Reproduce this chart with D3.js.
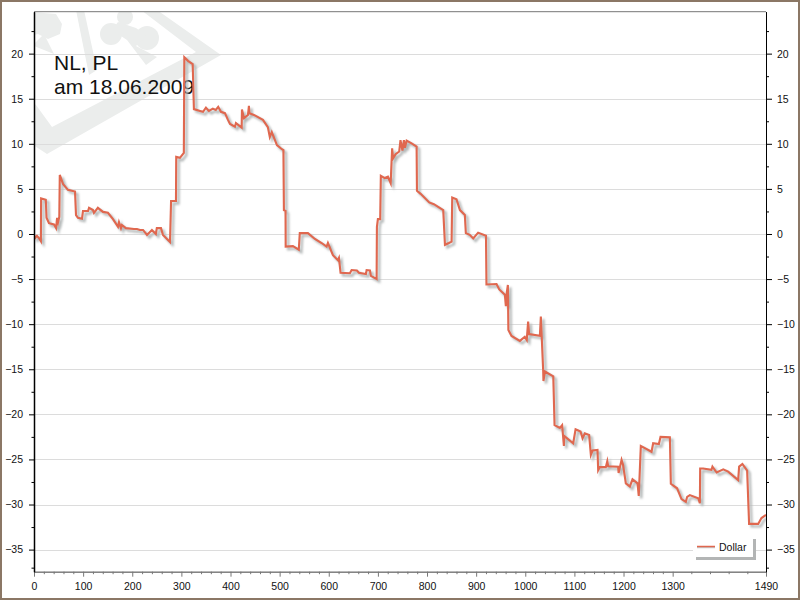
<!DOCTYPE html>
<html><head><meta charset="utf-8">
<script src="https://cdn.jsdelivr.net/npm/d3@7"></script>
<style>
html,body{margin:0;padding:0;background:#fff;overflow:hidden}
svg{display:block}
text{font-family:"Liberation Sans",Arial,sans-serif;fill:#111}
</style></head><body>
<svg id="c" width="800" height="600"></svg>
<script>
const titleLines = ["NL, PL", "am 18.06.2009"];
const seriesName = "Dollar";
const yMajorTicks = [20,15,10,5,0,-5,-10,-15,-20,-25,-30,-35];
const xLabelTicks = [0,100,200,300,400,500,600,700,800,900,1000,1100,1200,1300,1490];
const xMinorTicks = [20,40,60,80,120,140,160,180,220,240,260,280,320,340,360,380,420,440,460,480,520,540,560,580,620,640,660,680,720,740,760,780,820,840,860,880,920,940,960,980,1020,1040,1060,1080,1120,1140,1160,1180,1220,1240,1260,1280,1338,1376,1414,1452];
const yMinorTicks = [22.5,17.5,12.5,7.5,2.5,-2.5,-7.5,-12.5,-17.5,-22.5,-27.5,-32.5,-37];
const xValues = [0,2,6,10,14,14.5,24,25.5,30.5,40.7,45,47,49,51.5,52.5,59,69,83.5,85.5,89.5,97.7,99.7,110,112,120,122,130,140.5,150.5,160.8,171,173,177,179,187,203.5,209.6,215.7,222,230,240,248,250,258.5,262.5,276.8,279,289,289.5,297,305,306,313.4,323,325.5,338,344,350,356,364,370,375,380.5,388.7,394.8,399,409,411,422.7,423.3,427.4,435.5,437.5,438.5,447.7,466,476,480,484,494.5,504.7,507.7,508.7,512,512.3,527,539,541,557.6,571.8,585.5,595.6,598.3,608.5,618.6,620.7,624,643,646.5,657.3,661.4,675.6,677,683.8,685.8,697.4,698,700,704.7,706,714,720.4,726,729,731,736,743.4,746,750,753,755,758.5,768.6,778.8,779.5,787,804.5,814,833,836.5,844.5,850,851.3,860,867,877,879,887,894,904,920,921,941.5,947,958.5,960.5,962.5,964.6,965.6,972,989,999,1003,1005.8,1007.8,1029.7,1031.7,1036.5,1037,1040,1057,1059.6,1070.4,1075,1078.6,1079.2,1097.5,1102.4,1112.5,1116.6,1121.3,1130,1133.5,1137,1147,1148.4,1151.8,1164,1167,1168.7,1189,1190,1196,1199,1204.7,1212.9,1218.3,1228.5,1231,1235.2,1257,1260.3,1272,1275.3,1294.3,1296.3,1309,1318,1326.8,1329.5,1335,1352,1355.4,1356,1362,1379,1381,1389.5,1403,1413,1433.3,1435.3,1442,1451.6,1455.6,1474,1480.8,1490];
const yValues = [-0.1,-0.45,-0.2,-0.45,-0.8,3.95,3.8,1.8,1.2,1.05,0.65,1.8,1.3,1.9,6.55,5.55,4.9,4.7,2.1,1.8,1.7,2.55,2.55,2.9,2.65,2.35,2.9,2.45,2.35,1.65,0.8,1.3,0.65,1.0,0.65,0.55,0.55,0.45,0.45,-0.1,0.45,0,0.65,0.65,-0.1,-0.9,3.65,3.65,8.55,8.45,9,19.6,19.2,18.85,13.85,13.65,13.55,14,13.65,13.9,13.75,14.1,13.55,13.4,12.65,12.2,11.9,12.3,11.8,13.8,12.85,13.2,14.2,13.4,13.2,12.65,11.85,10.75,11.3,9.85,9.4,9.3,2.65,2.55,-1.4,-1.35,-1.75,0.1,0.1,-0.55,-1.0,-1.4,-1.0,-2.35,-2.9,-2.65,-4.3,-4.35,-4.0,-4.05,-4.3,-4.45,-4.0,-4.05,-4.65,-5.0,0.8,1.65,1.65,6.45,6.2,6.35,5.65,9.5,8.4,8.85,9.15,10.4,9.25,10.4,9.55,10.35,10.05,9.7,4.8,4.45,3.5,3.3,2.65,-1.2,-1.0,-0.85,4.05,3.85,2.65,2.1,0.1,-0.1,-0.5,0.15,-0.2,-5.6,-5.55,-6.15,-6.75,-8,-6.45,-5.65,-10.65,-11.3,-11.85,-11.4,-11.75,-9.7,-11.1,-11.3,-9.15,-15.25,-16.3,-15.25,-15.8,-21.2,-21.5,-21.2,-23.5,-22.4,-23.2,-21.65,-21.9,-22.65,-22.1,-22.3,-24.5,-24,-23.95,-26.2,-25.85,-25.85,-25.2,-25.75,-25.8,-26.5,-25.05,-25.6,-27.65,-28,-27.2,-27.65,-29.05,-23.5,-24.15,-23.2,-23.3,-22.5,-22.55,-27.7,-28.2,-29.4,-29.7,-29.15,-28.95,-29.3,-29.85,-26,-26,-26.15,-25.8,-26.45,-26.1,-26.35,-27.3,-25.8,-25.5,-26.25,-32.15,-32.15,-31.5,-31.15];

const L=34,R=766,T=11.7,B=571.7;
const x=d3.scaleLinear().domain([0,1490]).range([L,R]);
const y=d3.scaleLinear().domain([24.65,-37.45]).range([T,B]);
const svg=d3.select("#c");

const defs=svg.append("defs");
defs.append("clipPath").attr("id","plot").append("rect").attr("x",L).attr("y",T).attr("width",R-L).attr("height",B-T);
defs.append("filter").attr("id","soft").attr("x","-5%").attr("y","-5%").attr("width","110%").attr("height","110%")
  .append("feGaussianBlur").attr("stdDeviation",1);
defs.append("filter").attr("id","soft2").attr("x","-5%").attr("y","-5%").attr("width","110%").attr("height","110%")
  .append("feGaussianBlur").attr("stdDeviation",0.35);

svg.append("rect").attr("x",1).attr("y",1).attr("width",798).attr("height",598).attr("fill","#fff").attr("stroke","#8b7765").attr("stroke-width",2);

// watermark
const wm=svg.append("g").attr("clip-path","url(#plot)").attr("fill","#ebedec");
wm.append("path").attr("fill-rule","evenodd").attr("d","M141,10L157,10L221,55L47,154L30,143L30,100L36,105L52,127L196,52Z");
wm.append("path").attr("d","M76,10L84,10L97,70L89,75Z");
wm.append("circle").attr("cx",111).attr("cy",34).attr("r",11);
wm.append("circle").attr("cx",147).attr("cy",38).attr("r",12);
wm.append("circle").attr("cx",125).attr("cy",17).attr("r",8);
wm.append("path").attr("d","M118,22L136,28L147,36L136,46L157,57L146,65L127,40L112,30Z");
wm.append("path").attr("d","M30,12L56,14L62,24L60,34L48,39L38,34L30,36Z");
wm.append("path").attr("d","M35,43L44,34L54,54L34,46Z");

// grid
svg.append("g").selectAll("line").data(yMajorTicks).join("line")
  .attr("x1",L).attr("x2",R).attr("y1",d=>Math.round(y(d))+0.5).attr("y2",d=>Math.round(y(d))+0.5)
  .attr("stroke","#dcdcdc").attr("stroke-width",1);

// title
const tt=svg.append("g");
titleLines.forEach((s,i)=>tt.append("text").attr("x",54).attr("y",[70,94][i]).attr("font-size",21).style("fill","#111").text(s));

// series
const line=d3.line().x((d,i)=>x(xValues[i])).y(d=>y(d));
const pl=svg.append("g").attr("clip-path","url(#plot)");
pl.append("path").datum(yValues).attr("d",line).attr("fill","none").attr("stroke","#b4b8b8").attr("stroke-width",2.4)
  .attr("stroke-linejoin","miter").attr("stroke-miterlimit",5).attr("transform","translate(2.5,2.5)").attr("filter","url(#soft)");
pl.append("path").datum(yValues).attr("d",line).attr("fill","none").attr("stroke","#e0674f").attr("stroke-width",2.1)
  .attr("stroke-linejoin","miter").attr("stroke-miterlimit",5).attr("filter","url(#soft2)");

// axes
function style(g,color){g.select(".domain").attr("stroke",color);g.selectAll("line").attr("stroke",color);g.selectAll("text").attr("font-size",10.5).style("fill","#111");}
const fmt=d3.format("d");
svg.append("line").attr("x1",L).attr("x2",R).attr("y1",T).attr("y2",T).attr("stroke","#777");

const ax=svg.append("g").attr("transform",`translate(0,${B})`);
const axMinor=ax.append("g").call(d3.axisBottom(x).tickValues(xMinorTicks).tickSize(2.5).tickFormat("").tickSizeOuter(0));
style(axMinor,"#777");
const axMajor=ax.append("g").call(d3.axisBottom(x).tickValues(xLabelTicks).tickSize(5).tickPadding(5.5).tickFormat(fmt).tickSizeOuter(0));
style(axMajor,"#777");

const al=svg.append("g").attr("transform",`translate(${L},0)`);
const alMinor=al.append("g").call(d3.axisLeft(y).tickValues(yMinorTicks).tickSize(2.5).tickFormat("").tickSizeOuter(0));
style(alMinor,"#000");
const alMajor=al.append("g").call(d3.axisLeft(y).tickValues(yMajorTicks).tickSize(5).tickPadding(6).tickFormat(fmt).tickSizeOuter(0));
style(alMajor,"#000");
alMajor.select(".domain").attr("stroke-width",1.5);

const ar=svg.append("g").attr("transform",`translate(${R},0)`);
const arMinor=ar.append("g").call(d3.axisRight(y).tickValues(yMinorTicks).tickSize(3).tickFormat("").tickSizeOuter(0));
style(arMinor,"#000");
const arMajor=ar.append("g").call(d3.axisRight(y).tickValues(yMajorTicks).tickSize(6).tickPadding(5).tickFormat(fmt).tickSizeOuter(0));
style(arMajor,"#000");

// legend
const lg=svg.append("g");
lg.append("rect").attr("x",696).attr("y",539).attr("width",60).attr("height",21).attr("fill","#b3b5b5");
lg.append("rect").attr("x",693).attr("y",537).attr("width",60).attr("height",20).attr("fill","#fff");
lg.append("line").attr("x1",697).attr("x2",715).attr("y1",547.5).attr("y2",547.5).attr("stroke","#c8c8c8").attr("stroke-width",1.5);
lg.append("line").attr("x1",697).attr("x2",715).attr("y1",546.5).attr("y2",546.5).attr("stroke","#e0674f").attr("stroke-width",1.5);
lg.append("text").attr("x",719).attr("y",551).attr("font-size",10.5).style("fill","#111").text(seriesName);
</script></body></html>
